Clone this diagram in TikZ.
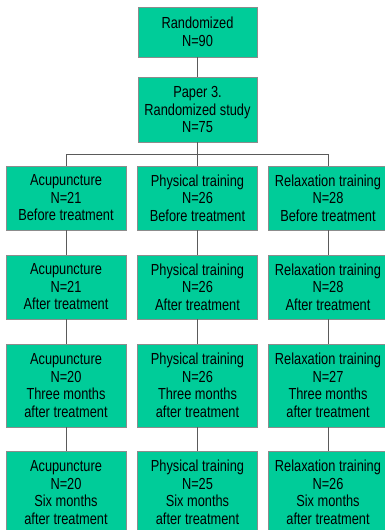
\documentclass[tikz,border=0pt]{standalone}
\usepackage{fontspec}
\setmainfont[FakeStretch=0.8]{Liberation Sans}
\definecolor{boxgreen}{HTML}{00CC99}
\definecolor{boxedge}{HTML}{8C8C8C}
\definecolor{linkgray}{HTML}{5A5A5A}
\begin{document}
\begin{tikzpicture}[x=1pt, y=-1pt,
        box/.style={rectangle, draw=boxedge, fill=boxgreen, line width=0.8pt,
            minimum width=120pt, inner sep=0pt, align=center,
            font=\fontsize{16}{17.5}\selectfont},
        link/.style={draw=linkgray, line width=0.9pt}
    ]
        \useasboundingbox (0,0) rectangle (385,530);
        % top of the chart
        \node[box, minimum width=119pt, minimum height=50pt] (rand) at (197.5,32)
            {Randomized\\N=90};
        \node[box, minimum width=119pt, minimum height=65pt] (paper) at (197.5,109.5)
            {Paper 3.\\Randomized study\\N=75};
        % three arms
        \node[box, minimum height=64pt] (acu1) at (66,198) {Acupuncture\\N=21\\Before treatment};
        \node[box, minimum height=64pt] (phys1) at (197.5,198) {Physical training\\N=26\\Before treatment};
        \node[box, minimum height=64pt] (relax1) at (328,198) {Relaxation training\\N=28\\Before treatment};
        \node[box, minimum height=64pt] (acu2) at (66,287) {Acupuncture\\N=21\\After treatment};
        \node[box, minimum height=64pt] (phys2) at (197.5,287) {Physical training\\N=26\\After treatment};
        \node[box, minimum height=64pt] (relax2) at (328,287) {Relaxation training\\N=28\\After treatment};
        \node[box, minimum height=83pt] (acu3) at (66,385.5)
            {Acupuncture\\N=20\\Three months\\after treatment};
        \node[box, minimum height=83pt] (phys3) at (197.5,385.5)
            {Physical training\\N=26\\Three months\\after treatment};
        \node[box, minimum height=83pt] (relax3) at (328,385.5)
            {Relaxation training\\N=27\\Three months\\after treatment};
        \node[box, minimum height=83pt] (acu4) at (66,492.5)
            {Acupuncture\\N=20\\Six months\\after treatment};
        \node[box, minimum height=83pt] (phys4) at (197.5,492.5)
            {Physical training\\N=25\\Six months\\after treatment};
        \node[box, minimum height=83pt] (relax4) at (328,492.5)
            {Relaxation training\\N=26\\Six months\\after treatment};
        % connectors
        \draw[link] (rand) -- (paper);
        \draw[link] (paper.south) -- ++(0,12) coordinate (split);
        \draw[link] (split) -| (acu1.north);
        \draw[link] (split) -| (relax1.north);
        \draw[link] (split) -- (phys1.north);
        \foreach \arm in {acu,phys,relax} {
            \draw[link] (\arm1) -- (\arm2);
            \draw[link] (\arm2) -- (\arm3);
            \draw[link] (\arm3) -- (\arm4);
        }
\end{tikzpicture}
\end{document}
